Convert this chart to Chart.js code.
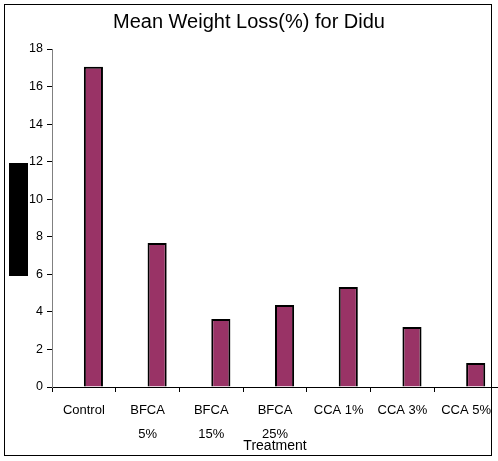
<!DOCTYPE html>
<html>
<head>
<meta charset="utf-8">
<script src="https://cdn.jsdelivr.net/npm/chart.js@4/dist/chart.umd.min.js"></script>
<style>
  html, body { margin: 0; padding: 0; background: #fff; }
  #wrap { width: 498px; height: 461px; position: relative; }
</style>
</head>
<body>
<div id="wrap"><canvas id="grafico"></canvas></div>
<script>
const categorias = ['Control', ['BFCA', '5%'], ['BFCA', '15%'], ['BFCA', '25%'], 'CCA 1%', 'CCA 3%', 'CCA 5%'];
const perdidaPeso = [17.05, 7.67, 3.62, 4.37, 5.32, 3.2, 1.28];
// serie vacia: en el original la barra queda desplazada a la derecha
const serieVacia = [null, null, null, null, null, null, null];
const ticksY = [0, 2, 4, 6, 8, 10, 12, 14, 16, 18];

const fuente = 'Arial, "Liberation Sans", sans-serif';

const marco = {
  id: 'marco',
  beforeDraw(chart) {
    const ctx = chart.ctx;
    ctx.save();
    ctx.fillStyle = '#fff';
    ctx.fillRect(0, 0, chart.width, chart.height);
    ctx.restore();
  },
  afterDraw(chart) {
    const ctx = chart.ctx;
    ctx.save();
    ctx.strokeStyle = '#000';
    ctx.lineWidth = 1;
    ctx.strokeRect(4.5, 4.5, 487, 451);
    // bloque negro donde iria el titulo del eje y
    ctx.fillStyle = '#000';
    ctx.fillRect(9, 163, 19, 113);
    ctx.restore();
  }
};

const ctx = document.getElementById('grafico').getContext('2d');
new Chart(ctx, {
  type: 'bar',
  data: {
    labels: categorias,
    datasets: [{
      label: '',
      data: serieVacia
    }, {
      label: 'Mean Weight Loss',
      data: perdidaPeso,
      backgroundColor: '#993366',
      borderColor: '#000',
      borderWidth: 2
    }]
  },
  options: {
    responsive: true,
    maintainAspectRatio: false,
    animation: false,
    datasets: { bar: { categoryPercentage: 0.6, barPercentage: 1.0 } },
    layout: { padding: { left: 0, right: 0, top: 0, bottom: 0 } },
    plugins: {
      legend: { display: false },
      tooltip: { enabled: false },
      title: {
        display: true,
        text: 'Mean Weight Loss(%) for Didu',
        color: '#000',
        font: { family: fuente, size: 20, weight: 'normal' },
        padding: { top: 10, bottom: 15 }
      }
    },
    scales: {
      x: {
        grid: { display: true, drawOnChartArea: false, offset: true, tickLength: 5, color: '#000' },
        border: { color: '#000', width: 1 },
        ticks: {
          color: '#000',
          padding: 6,
          maxRotation: 0,
          autoSkip: false,
          font: { family: fuente, size: 13, lineHeight: 1.85 }
        },
        title: {
          display: true,
          text: 'Treatment',
          color: '#000',
          font: { family: fuente, size: 14 },
          padding: { top: 0, bottom: 6 }
        },
        afterFit(scale) { scale.height = 74; }
      },
      y: {
        min: 0,
        max: 18,
        afterBuildTicks(scale) { scale.ticks = ticksY.map(v => ({ value: v })); },
        grid: { display: true, drawOnChartArea: false, tickLength: 5, color: '#000' },
        border: { color: '#808080', width: 1 },
        ticks: {
          color: '#000',
          padding: 4,
          font: { family: fuente, size: 12.5 }
        },
        afterFit(scale) { scale.width = 52; }
      }
    }
  },
  plugins: [marco]
});
</script>
</body>
</html>
